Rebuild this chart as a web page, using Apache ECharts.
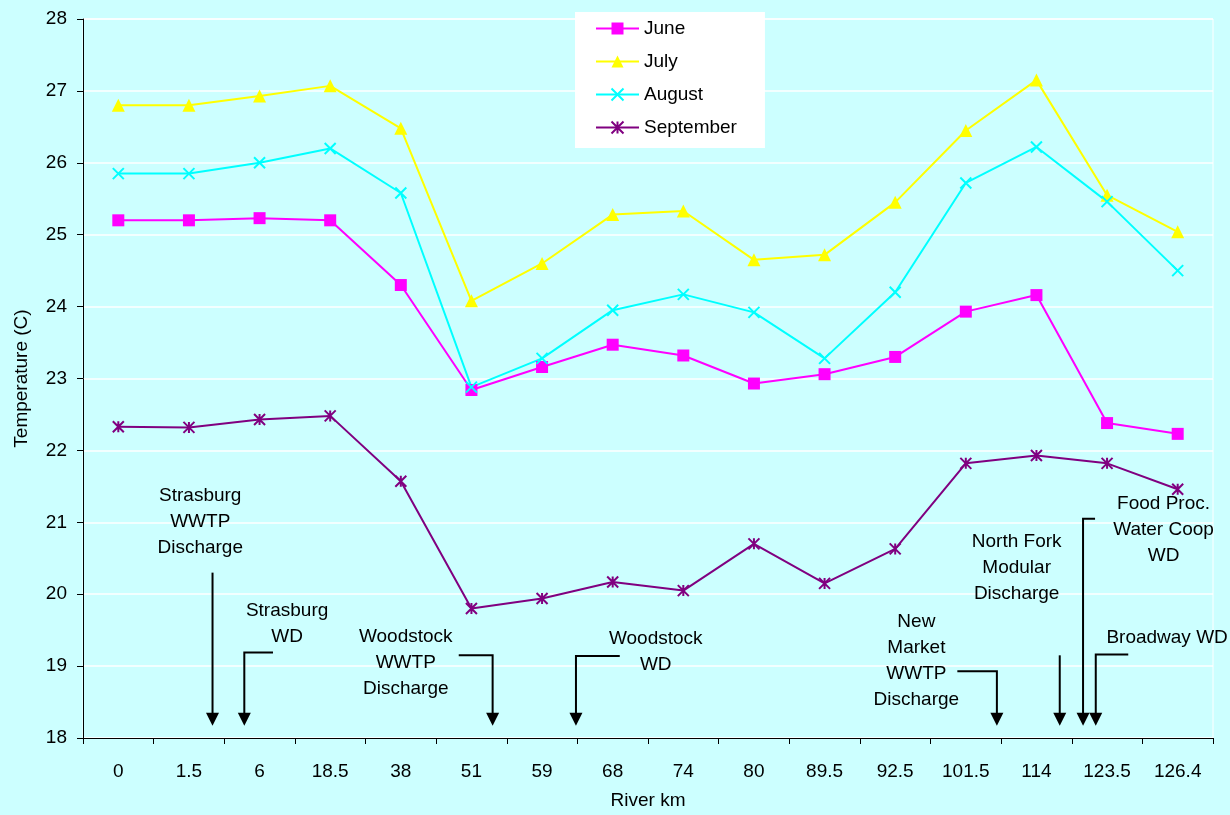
<!DOCTYPE html>
<html>
<head>
<meta charset="utf-8">
<title>River Temperature</title>
<script src="https://cdn.jsdelivr.net/npm/echarts@6/dist/echarts.min.js"></script>
<style>
  html, body { margin: 0; padding: 0; background: #CCFFFF; }
  #chart { width: 1230px; height: 815px; }
</style>
</head>
<body>
<div id="chart"></div>
<script>
// River km stations
const riverKm = ['0', '1.5', '6', '18.5', '38', '51', '59', '68', '74', '80', '89.5', '92.5', '101.5', '114', '123.5', '126.4'];

// Mean water temperature (C) by month
const june      = [25.20, 25.20, 25.23, 25.20, 24.30, 22.84, 23.16, 23.47, 23.32, 22.93, 23.06, 23.30, 23.93, 24.16, 22.38, 22.23];
const july      = [26.80, 26.80, 26.93, 27.07, 26.48, 24.08, 24.60, 25.28, 25.33, 24.65, 24.72, 25.45, 26.45, 27.15, 25.55, 25.04];
const august    = [25.85, 25.85, 26.00, 26.20, 25.58, 22.88, 23.28, 23.95, 24.17, 23.92, 23.28, 24.20, 25.72, 26.22, 25.46, 24.50];
const september = [22.33, 22.32, 22.43, 22.48, 21.57, 19.80, 19.94, 20.17, 20.05, 20.70, 20.15, 20.63, 21.82, 21.93, 21.82, 21.46];

const yTicks = { min: 18, max: 28, step: 1 };

// Discharge / withdrawal points along the river (positions in category units)
const annoLabels = [
  'Strasburg\nWWTP\nDischarge',
  'Strasburg\nWD',
  'Woodstock\nWWTP\nDischarge',
  'Woodstock\nWD',
  'New\nMarket\nWWTP\nDischarge',
  'North Fork\nModular\nDischarge',
  'Food Proc.\nWater Coop\nWD',
  'Broadway WD'
];
const annoLabelX  = [1.16, 2.39, 4.07, 7.61, 11.30, 12.72, 14.80, 14.85];
const annoLabelY  = [21.01, 19.59, 19.04, 19.20, 19.07, 20.37, 20.90, 19.40];
const arrowShaftX = [1.334, 1.784, 5.30, 6.48, 12.44, 13.33, 13.66, 13.84];
const arrowElbowX = [1.334, 2.19, 4.82, 7.10, 11.88, 13.33, 13.83, 14.30];
const arrowTopY   = [20.30, 19.19, 19.15, 19.14, 18.93, 19.15, 21.05, 19.16];
const arrowTipY   = 18.17;

const FONT = "'Liberation Sans', Arial, sans-serif";
const FS = 19;

const crossPath = 'path://M0,0L10,10M10,0L0,10';
const starPath  = 'path://M0,0L10,10M10,0L0,10M5,0L5,10';

function monthSeries(name, data, color, symbol, size) {
  return {
    name: name,
    type: 'line',
    data: data,
    xAxisIndex: 0,
    yAxisIndex: 0,
    symbol: symbol,
    symbolSize: size,
    lineStyle: { color: color, width: 2 },
    itemStyle: { color: color, borderColor: color, borderWidth: (symbol.indexOf('path://') === 0) ? 2 : 0 },
    emphasis: { disabled: true },
    z: 3
  };
}

const arrowData = arrowShaftX.map((x, i) => [arrowElbowX[i], x, arrowTopY[i]]);
const labelData = annoLabels.map((t, i) => ({ name: t, value: [annoLabelX[i], annoLabelY[i]] }));

const chart = echarts.init(document.getElementById('chart'), null, { renderer: 'canvas' });

chart.setOption({
  backgroundColor: '#CCFFFF',
  animation: false,
  textStyle: { fontFamily: FONT },
  legend: {
    orient: 'vertical',
    left: 575,
    top: 12,
    backgroundColor: '#FFFFFF',
    padding: [7, 28, 11, 20],
    itemWidth: 43,
    itemHeight: 15,
    itemGap: 14,
    textStyle: { fontFamily: FONT, fontSize: FS, color: '#000' },
    data: ['June', 'July', 'August', 'September']
  },
  grid: {
    left: 83, right: 17, top: 19, bottom: 75,
    show: true, borderColor: '#FFFFFF', borderWidth: 1, backgroundColor: 'transparent'
  },
  xAxis: [
    {
      type: 'category',
      data: riverKm,
      boundaryGap: true,
      name: 'River km',
      nameLocation: 'middle',
      nameGap: 53,
      nameTextStyle: { fontFamily: FONT, fontSize: FS, color: '#000' },
      axisLine: { onZero: false, lineStyle: { color: '#000', width: 1 } },
      axisTick: { show: true, length: 6, alignWithLabel: false, lineStyle: { color: '#000' } },
      axisLabel: { fontFamily: FONT, fontSize: FS, color: '#000', margin: 24, interval: 0 },
      splitLine: { show: false }
    },
    {
      type: 'value',
      min: -0.5,
      max: riverKm.length - 0.5,
      show: false
    }
  ],
  yAxis: {
    type: 'value',
    min: yTicks.min,
    max: yTicks.max,
    interval: yTicks.step,
    name: 'Temperature (C)',
    nameLocation: 'middle',
    nameGap: 52,
    nameTextStyle: { fontFamily: FONT, fontSize: FS, color: '#000' },
    axisLine: { show: true, onZero: false, lineStyle: { color: '#000', width: 1 } },
    axisTick: { show: true, length: 6, lineStyle: { color: '#000' } },
    axisLabel: { fontFamily: FONT, fontSize: FS, color: '#000', margin: 16 },
    splitLine: { show: true, lineStyle: { color: '#FFFFFF', width: 1.5 } }
  },
  series: [
    monthSeries('June', june, '#FF00FF', 'rect', 12),
    monthSeries('July', july, '#FFFF00', 'triangle', 13),
    monthSeries('August', august, '#00FFFF', crossPath, 11),
    monthSeries('September', september, '#800080', starPath, 11),
    {
      // arrows marking discharge and withdrawal points
      type: 'custom',
      xAxisIndex: 1,
      yAxisIndex: 0,
      silent: true,
      z: 4,
      data: arrowData,
      renderItem: function (params, api) {
        const top = api.coord([api.value(0), api.value(2)]);
        const corner = api.coord([api.value(1), api.value(2)]);
        const tip = api.coord([api.value(1), arrowTipY]);
        const head = 13, half = 6.5;
        return {
          type: 'group',
          children: [
            {
              type: 'polyline',
              shape: { points: [top, corner, [tip[0], tip[1] - head + 2]] },
              style: { stroke: '#000', lineWidth: 2, fill: null }
            },
            {
              type: 'polygon',
              shape: { points: [[tip[0] - half, tip[1] - head], [tip[0] + half, tip[1] - head], [tip[0], tip[1]]] },
              style: { fill: '#000', stroke: null }
            }
          ]
        };
      }
    },
    {
      // text of the discharge / withdrawal points
      type: 'scatter',
      xAxisIndex: 1,
      yAxisIndex: 0,
      silent: true,
      symbolSize: 0,
      itemStyle: { opacity: 1 },
      z: 4,
      data: labelData,
      label: {
        show: true,
        position: 'inside',
        formatter: '{b}',
        fontFamily: FONT,
        fontSize: FS,
        lineHeight: 26,
        color: '#000',
        opacity: 1,
        textBorderWidth: 0,
        textBorderColor: 'transparent',
        align: 'center',
        verticalAlign: 'middle'
      }
    }
  ]
});
</script>
</body>
</html>
